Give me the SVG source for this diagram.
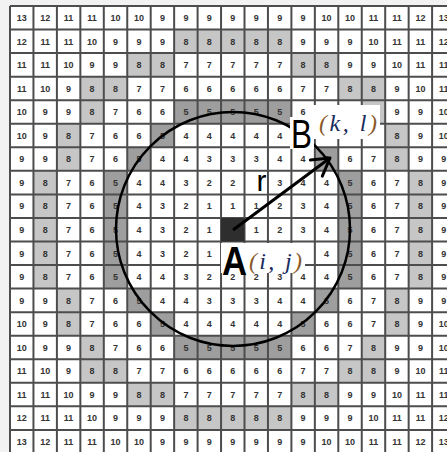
<svg xmlns="http://www.w3.org/2000/svg" width="447" height="452" viewBox="0 0 447 452">
<style>
.n{font-family:"Liberation Sans",Arial,sans-serif;font-size:9px;font-weight:bold;fill:#333;text-anchor:middle}
.l8{fill:#c6c6c6}
.d5{fill:#9e9e9e}
.gl{fill:none;stroke:#4d4d4d;stroke-width:2}
.bg{fill:#fff}
.big{font-family:"Liberation Sans",Arial,sans-serif;fill:#000}
.co{font-family:"Liberation Serif","Times New Roman",serif;font-style:italic;font-size:24px;fill:#1a2b5e}
.par{fill:#8b5a2b}
</style>
<defs>
<marker id="ah" markerUnits="userSpaceOnUse" markerWidth="22" markerHeight="24" viewBox="-20 -12 22 24" refX="0" refY="0" orient="auto" overflow="visible">
<path d="M-17,-10 L0,0 L-17,10" fill="none" stroke="#000" stroke-width="3" stroke-linecap="round" stroke-linejoin="round"/>
</marker>
</defs>
<rect x="0" y="0" width="447" height="452" fill="#f2f2f2"/>
<g id="grid">
<rect x="10" y="6" width="446" height="447" fill="#fff"/>
<g id="shade8">
<rect class="l8" x="174.15" y="29.55" width="117.25" height="23.55"/>
<rect class="l8" x="127.25" y="53.1" width="46.9" height="23.55"/>
<rect class="l8" x="291.4" y="53.1" width="46.9" height="23.55"/>
<rect class="l8" x="80.35" y="76.65" width="46.9" height="23.55"/>
<rect class="l8" x="338.3" y="76.65" width="46.9" height="23.55"/>
<rect class="l8" x="80.35" y="100.2" width="23.45" height="23.55"/>
<rect class="l8" x="361.75" y="100.2" width="23.45" height="23.55"/>
<rect class="l8" x="56.9" y="123.75" width="23.45" height="47.1"/>
<rect class="l8" x="385.2" y="123.75" width="23.45" height="47.1"/>
<rect class="l8" x="33.45" y="170.85" width="23.45" height="117.75"/>
<rect class="l8" x="408.65" y="170.85" width="23.45" height="117.75"/>
<rect class="l8" x="56.9" y="288.6" width="23.45" height="47.1"/>
<rect class="l8" x="385.2" y="288.6" width="23.45" height="47.1"/>
<rect class="l8" x="80.35" y="335.7" width="23.45" height="23.55"/>
<rect class="l8" x="361.75" y="335.7" width="23.45" height="23.55"/>
<rect class="l8" x="80.35" y="359.25" width="46.9" height="23.55"/>
<rect class="l8" x="338.3" y="359.25" width="46.9" height="23.55"/>
<rect class="l8" x="127.25" y="382.8" width="46.9" height="23.55"/>
<rect class="l8" x="291.4" y="382.8" width="46.9" height="23.55"/>
<rect class="l8" x="174.15" y="406.35" width="117.25" height="23.55"/>
</g>
<g id="shade5">
<rect class="d5" x="174.15" y="100.2" width="117.25" height="23.55"/>
<rect class="d5" x="150.7" y="123.75" width="23.45" height="23.55"/>
<rect class="d5" x="291.4" y="123.75" width="23.45" height="23.55"/>
<rect class="d5" x="127.25" y="147.3" width="23.45" height="23.55"/>
<rect class="d5" x="314.85" y="147.3" width="23.45" height="23.55"/>
<rect class="d5" x="103.8" y="170.85" width="23.45" height="117.75"/>
<rect class="d5" x="338.3" y="170.85" width="23.45" height="117.75"/>
<rect class="d5" x="127.25" y="288.6" width="23.45" height="23.55"/>
<rect class="d5" x="314.85" y="288.6" width="23.45" height="23.55"/>
<rect class="d5" x="150.7" y="312.15" width="23.45" height="23.55"/>
<rect class="d5" x="291.4" y="312.15" width="23.45" height="23.55"/>
<rect class="d5" x="174.15" y="335.7" width="117.25" height="23.55"/>
</g>
<path class="gl" d="M10 6V452M33.45 6V452M56.9 6V452M80.35 6V452M103.8 6V452M127.25 6V452M150.7 6V452M174.15 6V452M197.6 6V452M221.05 6V452M244.5 6V452M267.95 6V452M291.4 6V452M314.85 6V452M338.3 6V452M361.75 6V452M385.2 6V452M408.65 6V452M432.1 6V452M10 6H447M10 29.55H447M10 53.1H447M10 76.65H447M10 100.2H447M10 123.75H447M10 147.3H447M10 170.85H447M10 194.4H447M10 217.95H447M10 241.5H447M10 265.05H447M10 288.6H447M10 312.15H447M10 335.7H447M10 359.25H447M10 382.8H447M10 406.35H447M10 429.9H447"/>
<rect x="221.05" y="217.95" width="23.45" height="23.55" fill="#2e2e2e"/>
<g id="values">
<text class="n" y="21"><tspan x="21.7">13</tspan><tspan x="45.2">12</tspan><tspan x="68.6">11</tspan><tspan x="92.1">11</tspan><tspan x="115.5">10</tspan><tspan x="139">10</tspan><tspan x="162.4">9</tspan><tspan x="185.9">9</tspan><tspan x="209.3">9</tspan><tspan x="232.8">9</tspan><tspan x="256.2">9</tspan><tspan x="279.7">9</tspan><tspan x="303.1">9</tspan><tspan x="326.6">10</tspan><tspan x="350">10</tspan><tspan x="373.5">11</tspan><tspan x="396.9">11</tspan><tspan x="420.4">12</tspan><tspan x="443.8">13</tspan></text>
<text class="n" y="44.5"><tspan x="21.7">12</tspan><tspan x="45.2">11</tspan><tspan x="68.6">11</tspan><tspan x="92.1">10</tspan><tspan x="115.5">9</tspan><tspan x="139">9</tspan><tspan x="162.4">9</tspan><tspan x="185.9">8</tspan><tspan x="209.3">8</tspan><tspan x="232.8">8</tspan><tspan x="256.2">8</tspan><tspan x="279.7">8</tspan><tspan x="303.1">9</tspan><tspan x="326.6">9</tspan><tspan x="350">9</tspan><tspan x="373.5">10</tspan><tspan x="396.9">11</tspan><tspan x="420.4">11</tspan><tspan x="443.8">12</tspan></text>
<text class="n" y="68.1"><tspan x="21.7">11</tspan><tspan x="45.2">11</tspan><tspan x="68.6">10</tspan><tspan x="92.1">9</tspan><tspan x="115.5">9</tspan><tspan x="139">8</tspan><tspan x="162.4">8</tspan><tspan x="185.9">7</tspan><tspan x="209.3">7</tspan><tspan x="232.8">7</tspan><tspan x="256.2">7</tspan><tspan x="279.7">7</tspan><tspan x="303.1">8</tspan><tspan x="326.6">8</tspan><tspan x="350">9</tspan><tspan x="373.5">9</tspan><tspan x="396.9">10</tspan><tspan x="420.4">11</tspan><tspan x="443.8">11</tspan></text>
<text class="n" y="91.6"><tspan x="21.7">11</tspan><tspan x="45.2">10</tspan><tspan x="68.6">9</tspan><tspan x="92.1">8</tspan><tspan x="115.5">8</tspan><tspan x="139">7</tspan><tspan x="162.4">7</tspan><tspan x="185.9">6</tspan><tspan x="209.3">6</tspan><tspan x="232.8">6</tspan><tspan x="256.2">6</tspan><tspan x="279.7">6</tspan><tspan x="303.1">7</tspan><tspan x="326.6">7</tspan><tspan x="350">8</tspan><tspan x="373.5">8</tspan><tspan x="396.9">9</tspan><tspan x="420.4">10</tspan><tspan x="443.8">11</tspan></text>
<text class="n" y="115.2"><tspan x="21.7">10</tspan><tspan x="45.2">9</tspan><tspan x="68.6">9</tspan><tspan x="92.1">8</tspan><tspan x="115.5">7</tspan><tspan x="139">6</tspan><tspan x="162.4">6</tspan><tspan x="185.9">5</tspan><tspan x="209.3">5</tspan><tspan x="232.8">5</tspan><tspan x="256.2">5</tspan><tspan x="279.7">5</tspan><tspan x="303.1">6</tspan><tspan x="396.9">9</tspan><tspan x="420.4">9</tspan><tspan x="443.8">10</tspan></text>
<text class="n" y="138.7"><tspan x="21.7">10</tspan><tspan x="45.2">9</tspan><tspan x="68.6">8</tspan><tspan x="92.1">7</tspan><tspan x="115.5">6</tspan><tspan x="139">6</tspan><tspan x="162.4">5</tspan><tspan x="185.9">4</tspan><tspan x="209.3">4</tspan><tspan x="232.8">4</tspan><tspan x="256.2">4</tspan><tspan x="279.7">4</tspan><tspan x="396.9">8</tspan><tspan x="420.4">9</tspan><tspan x="443.8">10</tspan></text>
<text class="n" y="162.3"><tspan x="21.7">9</tspan><tspan x="45.2">9</tspan><tspan x="68.6">8</tspan><tspan x="92.1">7</tspan><tspan x="115.5">6</tspan><tspan x="139">5</tspan><tspan x="162.4">4</tspan><tspan x="185.9">4</tspan><tspan x="209.3">3</tspan><tspan x="232.8">3</tspan><tspan x="256.2">3</tspan><tspan x="279.7">4</tspan><tspan x="303.1">4</tspan><tspan x="326.6">5</tspan><tspan x="350">6</tspan><tspan x="373.5">7</tspan><tspan x="396.9">8</tspan><tspan x="420.4">9</tspan><tspan x="443.8">9</tspan></text>
<text class="n" y="185.8"><tspan x="21.7">9</tspan><tspan x="45.2">8</tspan><tspan x="68.6">7</tspan><tspan x="92.1">6</tspan><tspan x="115.5">5</tspan><tspan x="139">4</tspan><tspan x="162.4">4</tspan><tspan x="185.9">3</tspan><tspan x="209.3">2</tspan><tspan x="232.8">2</tspan><tspan x="279.7">3</tspan><tspan x="303.1">4</tspan><tspan x="326.6">4</tspan><tspan x="350">5</tspan><tspan x="373.5">6</tspan><tspan x="396.9">7</tspan><tspan x="420.4">8</tspan><tspan x="443.8">9</tspan></text>
<text class="n" y="209.4"><tspan x="21.7">9</tspan><tspan x="45.2">8</tspan><tspan x="68.6">7</tspan><tspan x="92.1">6</tspan><tspan x="115.5">5</tspan><tspan x="139">4</tspan><tspan x="162.4">3</tspan><tspan x="185.9">2</tspan><tspan x="209.3">1</tspan><tspan x="232.8">1</tspan><tspan x="256.2">1</tspan><tspan x="279.7">2</tspan><tspan x="303.1">3</tspan><tspan x="326.6">4</tspan><tspan x="350">5</tspan><tspan x="373.5">6</tspan><tspan x="396.9">7</tspan><tspan x="420.4">8</tspan><tspan x="443.8">9</tspan></text>
<text class="n" y="232.9"><tspan x="21.7">9</tspan><tspan x="45.2">8</tspan><tspan x="68.6">7</tspan><tspan x="92.1">6</tspan><tspan x="115.5">5</tspan><tspan x="139">4</tspan><tspan x="162.4">3</tspan><tspan x="185.9">2</tspan><tspan x="209.3">1</tspan><tspan x="256.2">1</tspan><tspan x="279.7">2</tspan><tspan x="303.1">3</tspan><tspan x="326.6">4</tspan><tspan x="350">5</tspan><tspan x="373.5">6</tspan><tspan x="396.9">7</tspan><tspan x="420.4">8</tspan><tspan x="443.8">9</tspan></text>
<text class="n" y="256.5"><tspan x="21.7">9</tspan><tspan x="45.2">8</tspan><tspan x="68.6">7</tspan><tspan x="92.1">6</tspan><tspan x="115.5">5</tspan><tspan x="139">4</tspan><tspan x="162.4">3</tspan><tspan x="185.9">2</tspan><tspan x="209.3">1</tspan><tspan x="326.6">4</tspan><tspan x="350">5</tspan><tspan x="373.5">6</tspan><tspan x="396.9">7</tspan><tspan x="420.4">8</tspan><tspan x="443.8">9</tspan></text>
<text class="n" y="280"><tspan x="21.7">9</tspan><tspan x="45.2">8</tspan><tspan x="68.6">7</tspan><tspan x="92.1">6</tspan><tspan x="115.5">5</tspan><tspan x="139">4</tspan><tspan x="162.4">4</tspan><tspan x="185.9">3</tspan><tspan x="209.3">2</tspan><tspan x="232.8">2</tspan><tspan x="256.2">2</tspan><tspan x="279.7">3</tspan><tspan x="303.1">4</tspan><tspan x="326.6">4</tspan><tspan x="350">5</tspan><tspan x="373.5">6</tspan><tspan x="396.9">7</tspan><tspan x="420.4">8</tspan><tspan x="443.8">9</tspan></text>
<text class="n" y="303.6"><tspan x="21.7">9</tspan><tspan x="45.2">9</tspan><tspan x="68.6">8</tspan><tspan x="92.1">7</tspan><tspan x="115.5">6</tspan><tspan x="139">5</tspan><tspan x="162.4">4</tspan><tspan x="185.9">4</tspan><tspan x="209.3">3</tspan><tspan x="232.8">3</tspan><tspan x="256.2">3</tspan><tspan x="279.7">4</tspan><tspan x="303.1">4</tspan><tspan x="326.6">5</tspan><tspan x="350">6</tspan><tspan x="373.5">7</tspan><tspan x="396.9">8</tspan><tspan x="420.4">9</tspan><tspan x="443.8">9</tspan></text>
<text class="n" y="327.1"><tspan x="21.7">10</tspan><tspan x="45.2">9</tspan><tspan x="68.6">8</tspan><tspan x="92.1">7</tspan><tspan x="115.5">6</tspan><tspan x="139">6</tspan><tspan x="162.4">5</tspan><tspan x="185.9">4</tspan><tspan x="209.3">4</tspan><tspan x="232.8">4</tspan><tspan x="256.2">4</tspan><tspan x="279.7">4</tspan><tspan x="303.1">5</tspan><tspan x="326.6">6</tspan><tspan x="350">6</tspan><tspan x="373.5">7</tspan><tspan x="396.9">8</tspan><tspan x="420.4">9</tspan><tspan x="443.8">10</tspan></text>
<text class="n" y="350.7"><tspan x="21.7">10</tspan><tspan x="45.2">9</tspan><tspan x="68.6">9</tspan><tspan x="92.1">8</tspan><tspan x="115.5">7</tspan><tspan x="139">6</tspan><tspan x="162.4">6</tspan><tspan x="185.9">5</tspan><tspan x="209.3">5</tspan><tspan x="232.8">5</tspan><tspan x="256.2">5</tspan><tspan x="279.7">5</tspan><tspan x="303.1">6</tspan><tspan x="326.6">6</tspan><tspan x="350">7</tspan><tspan x="373.5">8</tspan><tspan x="396.9">9</tspan><tspan x="420.4">9</tspan><tspan x="443.8">10</tspan></text>
<text class="n" y="374.2"><tspan x="21.7">11</tspan><tspan x="45.2">10</tspan><tspan x="68.6">9</tspan><tspan x="92.1">8</tspan><tspan x="115.5">8</tspan><tspan x="139">7</tspan><tspan x="162.4">7</tspan><tspan x="185.9">6</tspan><tspan x="209.3">6</tspan><tspan x="232.8">6</tspan><tspan x="256.2">6</tspan><tspan x="279.7">6</tspan><tspan x="303.1">7</tspan><tspan x="326.6">7</tspan><tspan x="350">8</tspan><tspan x="373.5">8</tspan><tspan x="396.9">9</tspan><tspan x="420.4">10</tspan><tspan x="443.8">11</tspan></text>
<text class="n" y="397.8"><tspan x="21.7">11</tspan><tspan x="45.2">11</tspan><tspan x="68.6">10</tspan><tspan x="92.1">9</tspan><tspan x="115.5">9</tspan><tspan x="139">8</tspan><tspan x="162.4">8</tspan><tspan x="185.9">7</tspan><tspan x="209.3">7</tspan><tspan x="232.8">7</tspan><tspan x="256.2">7</tspan><tspan x="279.7">7</tspan><tspan x="303.1">8</tspan><tspan x="326.6">8</tspan><tspan x="350">9</tspan><tspan x="373.5">9</tspan><tspan x="396.9">10</tspan><tspan x="420.4">11</tspan><tspan x="443.8">11</tspan></text>
<text class="n" y="421.3"><tspan x="21.7">12</tspan><tspan x="45.2">11</tspan><tspan x="68.6">11</tspan><tspan x="92.1">10</tspan><tspan x="115.5">9</tspan><tspan x="139">9</tspan><tspan x="162.4">9</tspan><tspan x="185.9">8</tspan><tspan x="209.3">8</tspan><tspan x="232.8">8</tspan><tspan x="256.2">8</tspan><tspan x="279.7">8</tspan><tspan x="303.1">9</tspan><tspan x="326.6">9</tspan><tspan x="350">9</tspan><tspan x="373.5">10</tspan><tspan x="396.9">11</tspan><tspan x="420.4">11</tspan><tspan x="443.8">12</tspan></text>
<text class="n" y="444.9"><tspan x="21.7">13</tspan><tspan x="45.2">12</tspan><tspan x="68.6">11</tspan><tspan x="92.1">11</tspan><tspan x="115.5">10</tspan><tspan x="139">10</tspan><tspan x="162.4">9</tspan><tspan x="185.9">9</tspan><tspan x="209.3">9</tspan><tspan x="232.8">9</tspan><tspan x="256.2">9</tspan><tspan x="279.7">9</tspan><tspan x="303.1">9</tspan><tspan x="326.6">10</tspan><tspan x="350">10</tspan><tspan x="373.5">11</tspan><tspan x="396.9">11</tspan><tspan x="420.4">12</tspan><tspan x="443.8">13</tspan></text>
</g>
</g>
<g id="radius-circle">
<circle cx="233" cy="229" r="117" fill="none" stroke="#000" stroke-width="2.5"/>
</g>
<g id="connectors">
<line x1="233" y1="230" x2="330" y2="158" stroke="#000" stroke-width="3" marker-end="url(#ah)"/>
</g>
<g id="node-r">
<rect class="bg" x="246" y="172.5" width="21" height="21"/>
<text class="big" x="256.5" y="191" font-size="30">r</text>
</g>
<g id="node-B">
<rect class="bg" x="290" y="117" width="24" height="32"/>
<rect class="bg" x="313" y="105" width="67" height="34"/>
<text class="big" x="291" y="148" font-size="41" textLength="21" lengthAdjust="spacingAndGlyphs">B</text>
<text class="co" x="319" y="131" textLength="58" lengthAdjust="spacing"><tspan class="par">(</tspan>k, l<tspan class="par">)</tspan></text>
</g>
<g id="node-A">
<rect class="bg" x="221" y="243" width="84" height="30"/>
<text class="big" x="222" y="274.5" font-size="40" font-weight="bold" textLength="25" lengthAdjust="spacingAndGlyphs">A</text>
<text class="co" x="249" y="268.5" textLength="53" lengthAdjust="spacing"><tspan class="par">(</tspan>i, j<tspan class="par">)</tspan></text>
</g>
</svg>
